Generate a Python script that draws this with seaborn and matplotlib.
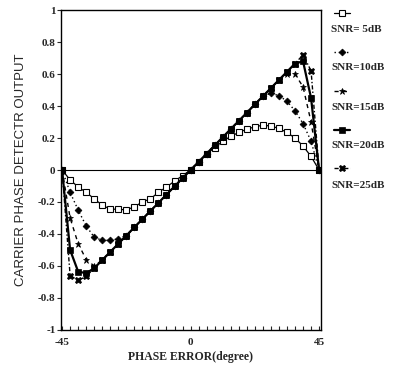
import numpy as np
import pandas as pd
import matplotlib
matplotlib.use("Agg")
import matplotlib.pyplot as plt
import seaborn as sns
from matplotlib.lines import Line2D

phase = [-45.0, -42.19, -39.38, -36.56, -33.75, -30.94, -28.13, -25.31, -22.5, -19.69,
         -16.88, -14.06, -11.25, -8.44, -5.63, -2.81, 0.0, 2.81, 5.63, 8.44, 11.25,
         14.06, 16.88, 19.69, 22.5, 25.31, 28.13, 30.94, 33.75, 36.56, 39.38, 42.19, 45.0]

snr5 = [0, -0.062, -0.106, -0.14, -0.18, -0.22, -0.245, -0.245, -0.25, -0.23, -0.2,
        -0.18, -0.14, -0.106, -0.07, -0.035, 0, 0.05, 0.1, 0.14, 0.18, 0.21, 0.235,
        0.255, 0.27, 0.28, 0.275, 0.26, 0.235, 0.2, 0.15, 0.085, 0]
snr10 = [0, -0.14, -0.25, -0.35, -0.42, -0.44, -0.44, -0.43, -0.41, -0.358, -0.307,
         -0.256, -0.205, -0.154, -0.102, -0.051, 0, 0.051, 0.102, 0.154, 0.205, 0.256,
         0.307, 0.358, 0.41, 0.46, 0.48, 0.465, 0.43, 0.37, 0.29, 0.18, 0]
snr15 = [0, -0.3, -0.46, -0.56, -0.6, -0.563, -0.512, -0.461, -0.41, -0.358, -0.307,
         -0.256, -0.205, -0.154, -0.102, -0.051, 0, 0.051, 0.102, 0.154, 0.205, 0.256,
         0.307, 0.358, 0.41, 0.461, 0.512, 0.563, 0.6, 0.6, 0.52, 0.3, 0]
snr20 = [0, -0.5, -0.635, -0.645, -0.614, -0.563, -0.512, -0.461, -0.41, -0.358, -0.307,
         -0.256, -0.205, -0.154, -0.102, -0.051, 0, 0.051, 0.102, 0.154, 0.205, 0.256,
         0.307, 0.358, 0.41, 0.461, 0.512, 0.563, 0.614, 0.665, 0.68, 0.45, 0]
snr25 = [0, -0.66, -0.69, -0.665, -0.614, -0.563, -0.512, -0.461, -0.41, -0.358, -0.307,
         -0.256, -0.205, -0.154, -0.102, -0.051, 0, 0.051, 0.102, 0.154, 0.205, 0.256,
         0.307, 0.358, 0.41, 0.461, 0.512, 0.563, 0.614, 0.665, 0.72, 0.62, 0]

labels = ["SNR= 5dB", "SNR=10dB", "SNR=15dB", "SNR=20dB", "SNR=25dB"]
yticks = [-1, -0.8, -0.6, -0.4, -0.2, 0, 0.2, 0.4, 0.6, 0.8, 1]
ytick_labels = ["-1", "-0.8", "-0.6", "-0.4", "-0.2", "0", "0.2", "0.4", "0.6", "0.8", "1"]
xticks = [-45, 0, 45]
xtick_labels = ["-45", "0", "45"]

series = [snr5, snr10, snr15, snr20, snr25]
styles = [
    dict(ls="-", lw=0.9, marker="s", ms=4, mfc="white", mec="black", mew=0.8),
    dict(ls=(0, (1, 2)), lw=1.0, marker="D", ms=3.5, mfc="black", mec="black", mew=0.5),
    dict(ls=(0, (3, 3)), lw=1.0, marker="*", ms=5, mfc="black", mec="black", mew=0.5),
    dict(ls="-", lw=1.6, marker="s", ms=4, mfc="black", mec="black", mew=0.5),
    dict(ls=(0, (3, 1.5, 1, 1.5)), lw=1.0, marker="X", ms=4.5, mfc="black", mec="black", mew=0.5),
]

sns.set_style("ticks")
plt.rcParams["font.family"] = ["Liberation Serif", "DejaVu Serif"]

fig = plt.figure(figsize=(4.01, 3.72), dpi=100)
ax = fig.add_axes([0.152, 0.113, 0.648, 0.86])

df = pd.DataFrame({"phase": phase})
for lab, vals, st in zip(labels, series, styles):
    df[lab] = vals
    sns.lineplot(data=df, x="phase", y=lab, ax=ax, color="black",
                 linestyle=st["ls"], linewidth=st["lw"], marker=st["marker"],
                 markersize=st["ms"], markerfacecolor=st["mfc"],
                 markeredgecolor=st["mec"], markeredgewidth=st["mew"],
                 legend=False, errorbar=None)

ax.axhline(0, color="black", lw=0.8, zorder=0)
ax.set_xlim(-45.4, 45.6)
ax.set_ylim(-1, 1)
ax.set_yticks(yticks)
ax.set_yticklabels(ytick_labels, fontsize=8, fontweight="bold")
ax.set_xticks(xticks)
ax.set_xticklabels(xtick_labels, fontsize=8, fontweight="bold")
ax.set_xticks(phase, minor=True)
ax.tick_params(axis="x", which="both", direction="in", length=3, width=0.8, pad=6)
ax.tick_params(axis="y", direction="out", length=3, width=0.8, pad=1)
for sp in ax.spines.values():
    sp.set_linewidth(1.0)
    sp.set_color("black")

ax.set_xlabel("PHASE ERROR(degree)", fontsize=8.5, fontweight="bold", labelpad=3)
ax.set_ylabel("CARRIER PHASE DETECTR OUTPUT", fontsize=9.5,
              family=["Liberation Sans", "DejaVu Sans"], labelpad=8)

# legend: handle above label, outside on the right
for k, (lab, st) in enumerate(zip(labels, styles)):
    yh = 1 - (12.5 + 39 * k) / 372
    yl = 1 - (29 + 39 * k) / 372
    fig.add_artist(Line2D([334 / 401, 350 / 401], [yh, yh], transform=fig.transFigure,
                          color="black", linestyle=st["ls"], linewidth=st["lw"]))
    fig.add_artist(Line2D([342 / 401], [yh], transform=fig.transFigure,
                          color="black", marker=st["marker"], markersize=st["ms"],
                          markerfacecolor=st["mfc"], markeredgecolor=st["mec"],
                          markeredgewidth=st["mew"]))
    fig.text(331 / 401, yl, lab, fontsize=8, fontweight="bold", va="center", ha="left")

fig.savefig("out.png", dpi=100, facecolor="white")
